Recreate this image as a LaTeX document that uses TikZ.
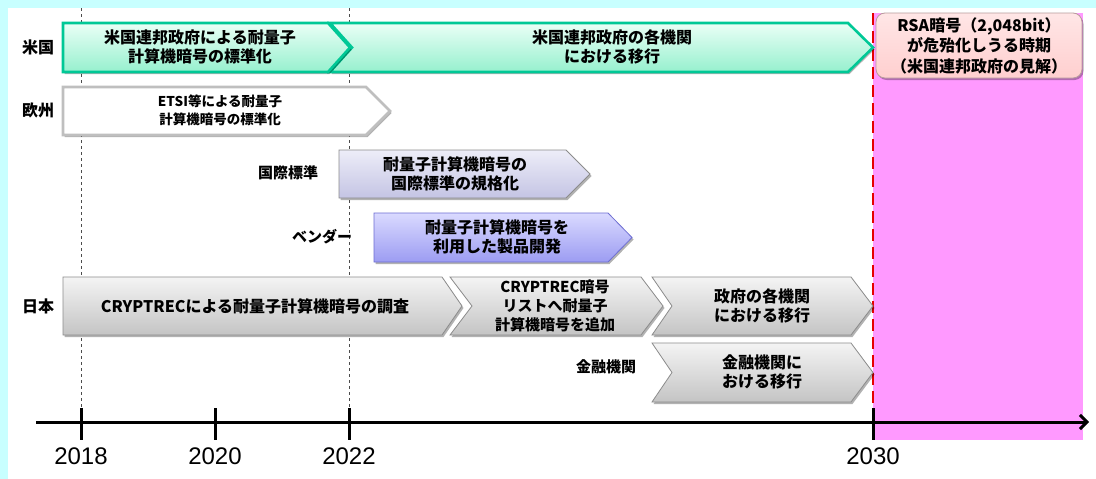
\documentclass[tikz,border=0pt]{standalone}
\usepackage{fontspec}
\setmainfont{Noto Sans CJK JP}
\newfontfamily\yearfont{Liberation Sans}
\usetikzlibrary{arrows.meta,shadows}
\definecolor{cyanbg}{HTML}{C8FFFF}
\definecolor{pinkbg}{HTML}{FF99FF}
\definecolor{greenline}{HTML}{00C896}
\definecolor{greentop}{HTML}{EAFFF6}
\definecolor{greenbot}{HTML}{96F0CE}
\definecolor{grayline}{HTML}{8C8C8C}
\definecolor{graytop}{HTML}{F4F4F4}
\definecolor{graybot}{HTML}{C4C4C4}
\definecolor{lavtop}{HTML}{EDEDF8}
\definecolor{lavbot}{HTML}{C4C4E4}
\definecolor{bluetop}{HTML}{DADAFF}
\definecolor{bluebot}{HTML}{9C9CF2}
\definecolor{blueline}{HTML}{6E6ED2}
\definecolor{rsatop}{HTML}{FFE6E6}
\definecolor{rsabot}{HTML}{FFCFCF}
\definecolor{rsaline}{HTML}{B89C9C}
\newcommand\chevbox[7]{%
  \path[#1] (#2,#4) -- ({#3-#6},#4) -- (#3,{(#4+#5)/2}) -- ({#3-#6},#5) -- (#2,#5) -- ({#2+#7},{(#4+#5)/2}) -- cycle;}
\tikzset{
  shad/.style={drop shadow={shadow xshift=1.5pt,shadow yshift=-2pt,opacity=0.3,fill=black}},
  greenbox/.style={shad,draw=greenline,line width=2.6pt,line join=miter,top color=greentop,bottom color=greenbot},
  whitebox/.style={shad,draw=gray!50,line width=2.6pt,fill=white},
  graybox/.style={shad,draw=grayline,line width=0.8pt,top color=graytop,bottom color=graybot},
  lavbox/.style={shad,draw=grayline,line width=0.8pt,top color=lavtop,bottom color=lavbot},
  bluebox/.style={shad,draw=blueline,line width=0.8pt,top color=bluetop,bottom color=bluebot},
  btext/.style={align=center,inner sep=0pt,font=\fontsize{16}{19.5}\selectfont\bfseries},
  stext/.style={align=center,inner sep=0pt,font=\fontsize{13.5}{18}\selectfont\bfseries},
  rowlabel/.style={inner sep=0pt,font=\fontsize{16}{19}\selectfont\bfseries},
  sublabel/.style={inner sep=0pt,font=\fontsize{15}{18}\selectfont\bfseries},
  yearlabel/.style={inner sep=0pt,font=\fontsize{24}{26}\selectfont\yearfont},
  guide/.style={draw=black!70,line width=0.6pt,dash pattern=on 3pt off 3pt},
  tick/.style={draw=black,line width=3pt},
}
\begin{document}
\begin{tikzpicture}[x=1pt,y=-1pt]
\useasboundingbox (0,0) rectangle (1096,479);
% background
\fill[cyanbg] (0,0) rectangle (1096,479);
\fill[white] (8,8) rectangle (1096,479);
% pink region
\fill[pinkbg] (873,13) rectangle (1083,440);
% guide lines
\draw[guide] (81,8) -- (81,408);
\draw[guide] (349,8) -- (349,408);
% red dashed line
\draw[red!90!black,line width=2.5pt,dash pattern=on 12pt off 6pt] (873,13) -- (873,422);
% axis
\coordinate (axs) at (36,422);
\coordinate (axe) at (1089,422);
\draw[line width=3pt,-{Straight Barb[length=7pt,width=14pt,line width=3pt]}] (axs) -- (axe);
\draw[tick] (81,408) -- (81,440);
\draw[tick] (215,408) -- (215,440);
\draw[tick] (349,408) -- (349,440);
\draw[tick] (873,408) -- (873,440);
\node[yearlabel] (y2018) at (81,456) {2018};
\node[yearlabel] (y2020) at (215,456) {2020};
\node[yearlabel] (y2022) at (349,456) {2022};
\node[yearlabel] (y2030) at (873,456) {2030};
% row labels
\node[rowlabel] (lus) at (38,47) {米国};
\node[rowlabel] (leu) at (38,110) {欧州};
\node[sublabel] (lintl) at (288,173) {国際標準};
\node[sublabel] (lvend) at (322,237) {ベンダー};
\node[rowlabel] (ljp) at (38,306) {日本};
\node[sublabel] (lfin) at (606,367) {金融機関};
% US
\chevbox{greenbox}{330}{873}{23}{72}{25}{22}
\chevbox{greenbox}{63}{350}{23}{72}{22}{0}
\node[btext] (us1) at (200,47) {米国連邦政府による耐量子\\計算機暗号の標準化};
\node[btext] (us2) at (612,47) {米国連邦政府の各機関\\における移行};
% EU
\chevbox{whitebox}{63}{390}{87}{135}{24}{0}
\node[stext] (eu) at (220,110) {ETSI等による耐量子\\計算機暗号の標準化};
% international
\chevbox{lavbox}{339}{590}{150}{198}{24}{0}
\node[btext] (intl) at (455,174) {耐量子計算機暗号の\\国際標準の規格化};
% vendor
\chevbox{bluebox}{374}{632}{213}{262}{24}{0}
\node[btext] (vend) at (497,237) {耐量子計算機暗号を\\利用した製品開発};
% Japan
\chevbox{graybox}{63}{462}{277}{335}{20}{0}
\node[btext] (jp1) at (255,306) {CRYPTRECによる耐量子計算機暗号の調査};
\chevbox{graybox}{450}{663}{277}{335}{22}{22}
\node[btext,font=\fontsize{15}{19}\selectfont\bfseries] (jp2) at (555,306) {CRYPTREC暗号\\リストへ耐量子\\計算機暗号を追加};
\chevbox{graybox}{652}{873}{277}{335}{22}{20}
\node[btext] (jp3) at (762,306) {政府の各機関\\における移行};
\chevbox{graybox}{652}{873}{343}{402}{22}{20}
\node[btext] (jp4) at (762,372) {金融機関に\\おける移行};
% RSA box
\node[shad,draw=rsaline,line width=0.8pt,rounded corners=9pt,top color=rsatop,bottom color=rsabot,
      minimum width=206pt,minimum height=65pt,inner sep=0pt] (rsabox) at (979,45.5) {};
\node[btext,font=\fontsize{16}{20.5}\selectfont\bfseries] (rsa) at (979,45.5) {RSA暗号（2,048bit）\\が危殆化しうる時期\\（米国連邦政府の見解）};
\end{tikzpicture}
\end{document}
